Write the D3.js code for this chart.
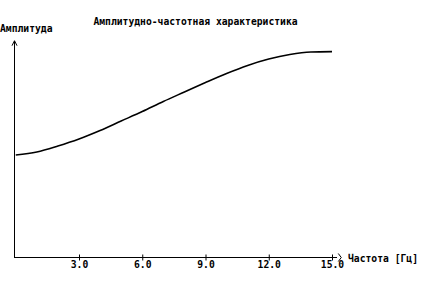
<!DOCTYPE html>
<html>
<head>
<meta charset="utf-8">
<script src="https://cdn.jsdelivr.net/npm/d3@7"></script>
<style>
  html, body { margin: 0; padding: 0; background: #fff; }
  text { font-family: "DejaVu Sans Mono", monospace; font-weight: bold; font-size: 9.7px; fill: #000; }
</style>
</head>
<body>
<div id="chart"></div>
<script>
// frequency (Hz) and amplitude
const freqs = [0, 1, 2, 3, 4, 5, 6, 7, 8, 9, 10, 11, 12, 13, 14, 15];
const amps = [0.495, 0.510, 0.539, 0.573, 0.614, 0.660, 0.706, 0.755, 0.801, 0.847, 0.891, 0.930, 0.961, 0.983, 0.995, 0.997];
const xTicks = [3, 6, 9, 12, 15];

const title = "Амплитудно-частотная характеристика";
const yLabel = "Амплитуда";
const xLabel = "Частота [Гц]";

const w = 444;
const h = 289;

const xScale = d3.scaleLinear().domain([0, 15]).range([15.75, 332]);
const yScale = d3.scaleLinear().domain([0, 1]).range([257, 51]);

const svg = d3.select("#chart")
  .append("svg")
  .attr("width", w)
  .attr("height", h);

const x0 = Math.round(xScale(-0.1)) + 0.5;   // y axis position
const y0 = yScale(0) + 0.5;                   // x axis position

// axes lines
svg.append("line")
  .attr("x1", x0).attr("y1", y0)
  .attr("x2", x0).attr("y2", yScale(1.05))
  .attr("stroke", "#000").attr("shape-rendering", "crispEdges");

svg.append("line")
  .attr("x1", x0).attr("y1", y0)
  .attr("x2", xScale(15.25)).attr("y2", y0)
  .attr("stroke", "#000").attr("shape-rendering", "crispEdges");

// arrow heads
const yTip = yScale(1.05);
svg.append("path")
  .attr("d", `M${x0 - 2.5},${yTip + 5} L${x0},${yTip} L${x0 + 2.5},${yTip + 5}`)
  .attr("fill", "none").attr("stroke", "#000");

const xTip = xScale(15.25) + 4;
svg.append("path")
  .attr("d", `M${xTip - 3},${y0 - 4} L${xTip},${y0} L${xTip - 3},${y0 + 4}`)
  .attr("fill", "none").attr("stroke", "#000");

// x ticks
const xAxis = d3.axisBottom(xScale)
  .tickValues(xTicks)
  .tickSizeInner(-3)
  .tickSizeOuter(0)
  .tickPadding(6)
  .tickFormat(d3.format(".1f"));

const gx = svg.append("g")
  .attr("transform", `translate(0, ${y0})`)
  .call(xAxis);
gx.select(".domain").remove();
gx.selectAll(".tick line").attr("stroke", "#000").attr("y1", 3);
gx.selectAll(".tick text")
  .attr("font-family", null).attr("font-size", null)
  .attr("dy", null).attr("y", 10);

// curve
const line = d3.line()
  .x((d, i) => xScale(freqs[i]))
  .y(d => yScale(d))
  .curve(d3.curveMonotoneX);

svg.append("path")
  .datum(amps)
  .attr("d", line)
  .attr("fill", "none")
  .attr("stroke", "#000")
  .attr("stroke-width", 1.6);

// texts
svg.append("text")
  .attr("x", 195.5).attr("y", 25)
  .attr("text-anchor", "middle")
  .text(title);

svg.append("text")
  .attr("x", 0).attr("y", 32)
  .text(yLabel);

svg.append("text")
  .attr("x", 348).attr("y", 262)
  .text(xLabel);
</script>
</body>
</html>
